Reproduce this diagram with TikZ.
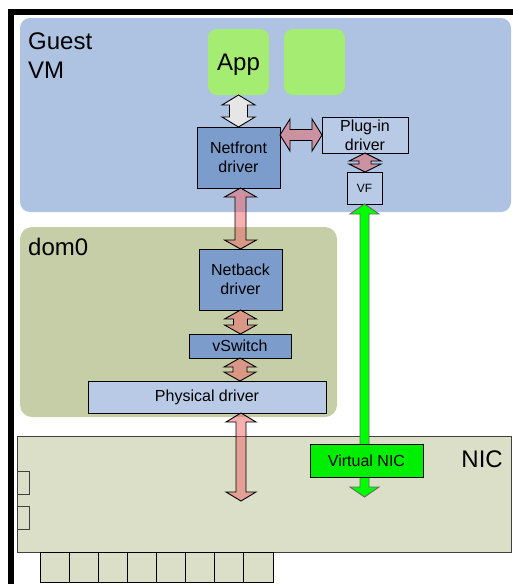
\documentclass[tikz,border=0pt]{standalone}
\usepackage{fontspec}
\setmainfont{Liberation Sans}
\usetikzlibrary{calc}
\definecolor{vmblue}{HTML}{AEC2E2}
\definecolor{domolive}{HTML}{C6CEA8}
\definecolor{nicbg}{HTML}{DBDFC7}
\definecolor{appgreen}{HTML}{A5EC73}
\definecolor{darkbox}{HTML}{7C9CCC}
\definecolor{lightbox}{HTML}{B9CAE6}
\definecolor{vnicgreen}{HTML}{00EE00}
\definecolor{pinkfill}{HTML}{EB6464}
\definecolor{whitearrow}{HTML}{E6E6E6}
\newcommand\vblockarrow[6]{%
  \path[#1] let \p1=#2, \p2=#3 in
  (\x1,\y1) -- (\x1+#5pt,\y1-#6pt) -- (\x1+#4pt,\y1-#6pt) -- (\x1+#4pt,\y2+#6pt)
  -- (\x1+#5pt,\y2+#6pt) -- (\x1,\y2) -- (\x1-#5pt,\y2+#6pt) -- (\x1-#4pt,\y2+#6pt)
  -- (\x1-#4pt,\y1-#6pt) -- (\x1-#5pt,\y1-#6pt) -- cycle;}
\newcommand\hblockarrow[6]{%
  \path[#1] let \p1=#2, \p2=#3 in
  (\x1,\y1) -- (\x1+#6pt,\y1+#5pt) -- (\x1+#6pt,\y1+#4pt) -- (\x2-#6pt,\y1+#4pt)
  -- (\x2-#6pt,\y1+#5pt) -- (\x2,\y1) -- (\x2-#6pt,\y1-#5pt) -- (\x2-#6pt,\y1-#4pt)
  -- (\x1+#6pt,\y1-#4pt) -- (\x1+#6pt,\y1-#5pt) -- cycle;}
\tikzset{
  region/.style={anchor=north west, inner sep=0pt, outer sep=0pt},
  bigtext/.style={font=\fontsize{24}{29}\selectfont, inner sep=0pt, align=left},
  boxtext/.style={font=\fontsize{16}{19.3}\selectfont},
  drvbox/.style={region, draw=black, line width=0.9pt, align=center, boxtext},
  pinkarrow/.style={fill=pinkfill, fill opacity=0.5, draw=black, draw opacity=1, line width=0.9pt, line join=miter},
  greyarrow/.style={fill=whitearrow, draw=black, line width=0.9pt},
  greenarrow/.style={fill=green, draw=black!60, line width=0.9pt},
}
\begin{document}
\begin{tikzpicture}[x=1pt,y=-1pt]
\useasboundingbox (0,0) rectangle (513,584);
% frame
\fill[black] (8,9) rectangle (513,15);
\fill[black] (8,9) rectangle (14,584);
% regions
\node[region, fill=vmblue, rounded corners=10pt, minimum width=491pt, minimum height=194pt] (vm) at (20,18) {};
\node[bigtext, anchor=north west] (vmlabel) at (28,33) {Guest\\VM};
\node[region, fill=domolive, rounded corners=12pt, minimum width=317pt, minimum height=190pt] (dom) at (20,227) {};
\node[bigtext, anchor=base west] (domlabel) at (28,255) {dom0};
% NIC board
\node[region, fill=nicbg, draw=black!75, line width=0.8pt, minimum width=494pt, minimum height=116pt] (nic) at (17,436) {};
\node[bigtext, anchor=base east] (niclabel) at (503,467) {NIC};
\node[region, fill=nicbg, draw=black!75, line width=0.8pt, minimum width=12pt, minimum height=23pt] (port1) at (17,471) {};
\node[region, fill=nicbg, draw=black!75, line width=0.8pt, minimum width=12pt, minimum height=23pt] (port2) at (17,506) {};
\foreach \i in {0,...,7}{
  \node[region, fill=nicbg, draw=black, line width=0.8pt, minimum width=29.125pt, minimum height=30pt] (finger\i) at (40+\i*29.125,552) {};
}
% apps
\node[region, fill=appgreen, rounded corners=9pt, minimum width=61pt, minimum height=66pt, text depth=0pt, font=\fontsize{24}{29}\selectfont] (app) at (208,29) {App};
\node[region, fill=appgreen, rounded corners=9pt, minimum width=61pt, minimum height=66pt] (app2) at (284,29) {};
% driver boxes
\node[drvbox, fill=darkbox, minimum width=83pt, minimum height=61pt] (nf) at (197,127) {Netfront\\driver};
\node[drvbox, fill=lightbox, minimum width=86pt, minimum height=36pt] (pl) at (322,117) {Plug-in\\driver};
\node[drvbox, fill=lightbox, minimum width=35pt, minimum height=32pt, font=\fontsize{12}{14}\selectfont] (vf) at (347,172) {VF};
\node[drvbox, fill=darkbox, minimum width=83pt, minimum height=61pt] (nb) at (199,249) {Netback\\driver};
\node[drvbox, fill=darkbox, minimum width=102pt, minimum height=24pt] (vsw) at (189,334) {vSwitch};
\node[drvbox, fill=lightbox, minimum width=238pt, minimum height=32pt] (phys) at (88,381) {Physical driver};
% coordinates for free ends
\coordinate (nicpink) at (241,501);
\coordinate (vnicend) at (364.5,497);
% arrows
\vblockarrow{greyarrow}{(app.south)}{(nf.north)}{9}{16.5}{10}
\hblockarrow{pinkarrow}{(nf.east |- pl.west)}{(pl.west)}{5.5}{16}{10}
\vblockarrow{pinkarrow}{(pl.south)}{(pl.south |- vf.north)}{6}{16}{8}
\vblockarrow{pinkarrow}{(nb.north |- nf.south)}{(nb.north)}{5.5}{16}{9}
\vblockarrow{pinkarrow}{(nb.south)}{(nb.south |- vsw.north)}{7}{16}{9}
\vblockarrow{pinkarrow}{(vsw.south)}{(vsw.south |- phys.north)}{7}{16}{9}
\vblockarrow{pinkarrow}{(nicpink |- phys.south)}{(nicpink)}{5}{15}{9}
\vblockarrow{greenarrow}{(vf.south)}{(vnicend)}{4.5}{14.5}{10}
\node[drvbox, fill=vnicgreen, minimum width=113pt, minimum height=33pt] (vnic) at (310,444) {Virtual NIC};
\end{tikzpicture}
\end{document}
